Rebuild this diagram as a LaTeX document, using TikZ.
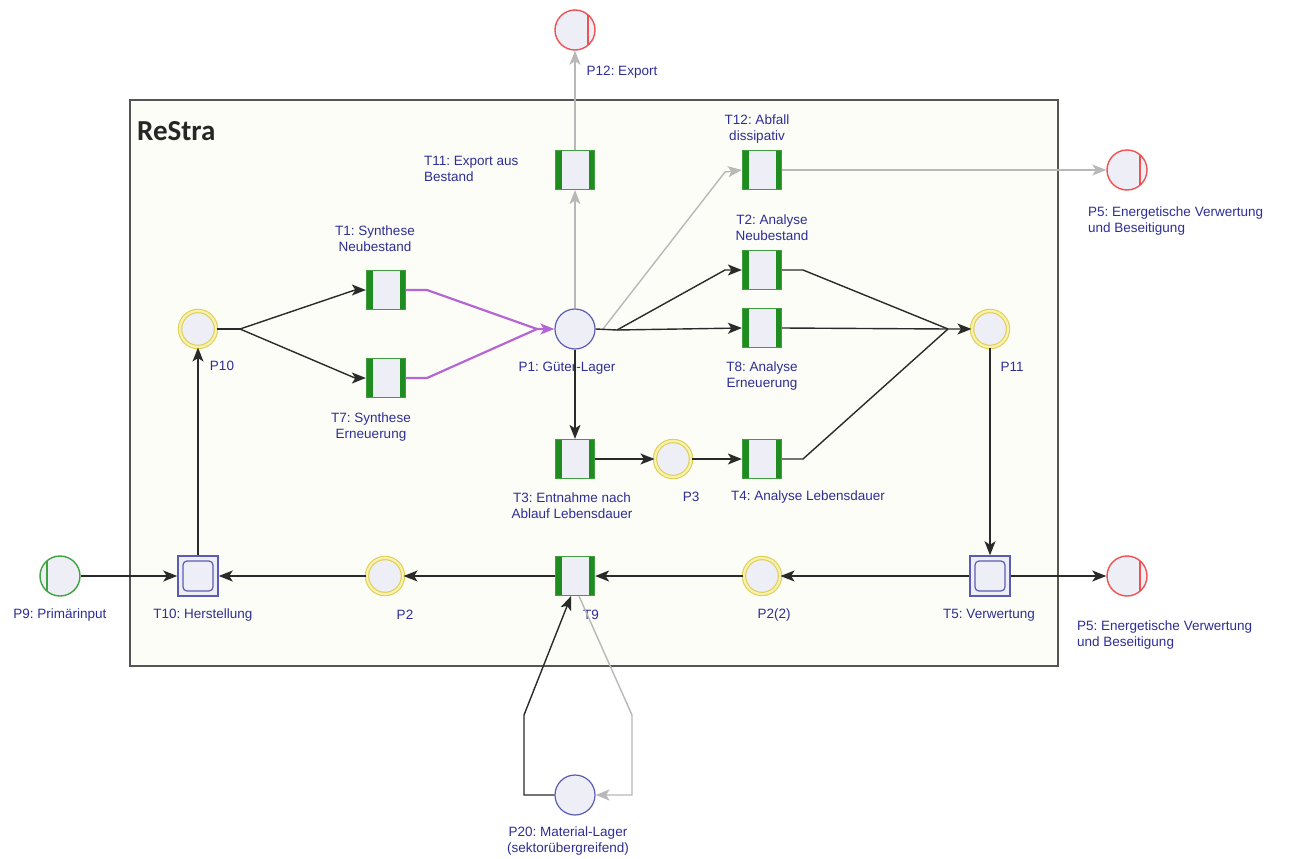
\documentclass[tikz,border=0pt]{standalone}
\usepackage{fontspec}
\setmainfont{Liberation Sans}
\newfontfamily\titlefont{Carlito}
\usetikzlibrary{arrows.meta}
\frenchspacing
\definecolor{pfill}{HTML}{EEEEF6}
\definecolor{pblue}{HTML}{5B5BB5}
\definecolor{pyel}{HTML}{DDD050}
\definecolor{pyelin}{HTML}{F8F0B0}
\definecolor{pred}{HTML}{EE5252}
\definecolor{pgreen}{HTML}{3DA53D}
\definecolor{tgreen}{HTML}{1E8C1E}
\definecolor{lblc}{HTML}{2E2E96}
\definecolor{bgbox}{HTML}{FDFDF7}
\definecolor{boxline}{HTML}{555555}
\definecolor{edgec}{HTML}{2A2A2A}
\definecolor{gedge}{HTML}{B8B8B8}
\definecolor{purp}{HTML}{B565D5}
\tikzset{
  place/.style={circle, minimum size=40pt, inner sep=0pt, fill=pfill, draw=pblue, line width=1.2pt},
  yplace/.style={place, minimum size=36pt, draw=pyel, double=pyelin, double distance=2.2pt, line width=1.1pt},
  rplace/.style={place, draw=pred, line width=1.4pt, path picture={\draw[pred, line width=1.3pt] ([xshift=13pt]path picture bounding box.north) -- ([xshift=13pt]path picture bounding box.south);}},
  gplace/.style={place, draw=pgreen, line width=1.4pt, path picture={\draw[pgreen, line width=1.3pt] ([xshift=-13pt]path picture bounding box.north) -- ([xshift=-13pt]path picture bounding box.south);}},
  trans/.style={rectangle, minimum size=39pt, inner sep=0pt, fill=pfill, draw=tgreen!85, line width=1.2pt,
    path picture={\fill[tgreen] (path picture bounding box.north west) rectangle ([xshift=6pt]path picture bounding box.south west);
                  \fill[tgreen] (path picture bounding box.north east) rectangle ([xshift=-6pt]path picture bounding box.south east);}},
  btrans/.style={rectangle, minimum size=40pt, inner sep=0pt, fill=pfill, draw=pblue, line width=1.5pt,
    path picture={\draw[pblue, line width=1.2pt, rounded corners=4pt] ([shift={(5pt,-5pt)}]path picture bounding box.north west) rectangle ([shift={(-5pt,5pt)}]path picture bounding box.south east);}},
  lbl/.style={text=lblc, font=\fontsize{13.5}{16}\selectfont, align=center, inner sep=0pt},
  tip/.style={-{Stealth[length=14pt, width=11pt, inset=3.5pt]}},
  e/.style={draw=edgec, line width=1.4pt, tip},
  en/.style={draw=edgec, line width=1.4pt},
  ge/.style={draw=gedge, line width=1.4pt, tip},
  pe/.style={draw=purp, line width=2.2pt, tip},
  pen/.style={draw=purp, line width=2.2pt}
}
\begin{document}
\begin{tikzpicture}[x=1pt,y=-1pt]
\path[use as bounding box] (0,0) rectangle (1290,859);
\fill[white] (0,0) rectangle (1290,859);
\draw[draw=boxline, fill=bgbox, line width=1.4pt] (130,100) rectangle (1058,666);
\node[anchor=west, inner sep=0pt, font=\titlefont\bfseries\fontsize{29}{30}\selectfont, text=black!85] (title) at (137,131) {ReStra};

% places
\node[rplace] (P12) at (575,30) {};
\node[rplace] (P5a) at (1127,170) {};
\node[rplace] (P5b) at (1127,576) {};
\node[gplace] (P9) at (60,576) {};
\node[place] (P1) at (575,329) {};
\node[place] (P20) at (575,795) {};
\node[yplace] (P10) at (198,329) {};
\node[yplace] (P11) at (990,329) {};
\node[yplace] (P3) at (673,459) {};
\node[yplace] (P2) at (385,576) {};
\node[yplace] (P22) at (762,576) {};

% transitions
\node[trans] (T11) at (575,170) {};
\node[trans] (T12) at (762,170) {};
\node[trans] (T1) at (386,290) {};
\node[trans] (T7) at (386,378) {};
\node[trans] (T2) at (762,270) {};
\node[trans] (T8) at (762,328) {};
\node[trans] (T3) at (575,459) {};
\node[trans] (T4) at (762,459) {};
\node[trans] (T9) at (575,576) {};
\node[btrans] (T10) at (198,576) {};
\node[btrans] (T5) at (990,576) {};

% labels
\node[lbl] (lP12) at (622,72) {P12: Export};
\node[lbl, anchor=west, align=left] (lT11) at (424,169) {T11: Export aus\\Bestand};
\node[lbl] (lT12) at (757,129) {T12: Abfall\\dissipativ};
\node[lbl, anchor=west, align=left] (lP5a) at (1088,221) {P5: Energetische Verwertung\\und Beseitigung};
\node[lbl] (lT2) at (772,228) {T2: Analyse\\Neubestand};
\node[lbl] (lT1) at (375,239) {T1: Synthese\\Neubestand};
\node[lbl] (lT7) at (371,427) {T7: Synthese\\Erneuerung};
\node[lbl] (lP10) at (222,366) {P10};
\node[lbl] (lP1) at (567,368) {P1: Güter-Lager};
\node[lbl] (lT8) at (762,376) {T8: Analyse\\Erneuerung};
\node[lbl] (lP11) at (1012,367) {P11};
\node[lbl] (lT3) at (572,506) {T3: Entnahme nach\\Ablauf Lebensdauer};
\node[lbl] (lP3) at (691,497) {P3};
\node[lbl] (lT4) at (808,497) {T4: Analyse Lebensdauer};
\node[lbl] (lP9) at (60,615) {P9: Primärinput};
\node[lbl] (lT10) at (203,615) {T10: Herstellung};
\node[lbl] (lP2) at (405,615) {P2};
\node[lbl] (lT9) at (591,615) {T9};
\node[lbl] (lP22) at (774,615) {P2(2)};
\node[lbl] (lT5) at (989,615) {T5: Verwertung};
\node[lbl, anchor=west, align=left] (lP5b) at (1077,635) {P5: Energetische Verwertung\\und Beseitigung};
\node[lbl] (lP20) at (568,841) {P20: Material-Lager\\(sektorübergreifend)};

% bend coordinates
\coordinate (k10) at (240,329);
\coordinate (k1a) at (355,290);
\coordinate (k7a) at (355,378);
\coordinate (q1) at (427,290);
\coordinate (q7) at (427,378);
\coordinate (m1) at (537,329);
\coordinate (b1) at (617,330);
\coordinate (b2) at (725,270);
\coordinate (g0) at (603,329);
\coordinate (g1) at (725,172);
\coordinate (r2) at (803,270);
\coordinate (r4) at (803,459);
\coordinate (m11) at (948,329);
\coordinate (a1) at (524,795);
\coordinate (a2) at (524,715);
\coordinate (c1) at (632,795);
\coordinate (c2) at (632,715);

% gray edges
\draw[ge] (P1) -- (T11);
\draw[ge] (T11) -- (P12);
\draw[ge] (g0) -- (g1) -- (T12.west);
\draw[ge] (T12) -- (P5a);
\draw[ge] ([xshift=4pt]T9.south) -- (c2) -- (c1) -- (P20.east);

% black edges
\draw[en] (P10.east) -- (k10);
\draw[e] (k10) -- (k1a) -- (T1.west);
\draw[e] (k10) -- (k7a) -- (T7.west);
\draw[pen] (T1.east) -- (q1) -- (m1);
\draw[pe] (T7.east) -- (q7) -- (m1) -- (P1.west);
\draw[en] (P1.east) -- (b1);
\draw[e] (b1) -- (b2) -- (T2.west);
\draw[e] (b1) -- (T8.west);
\draw[en] (T2.east) -- (r2) -- (m11);
\draw[en] (T4.east) -- (r4) -- (m11);
\draw[e] (T8.east) -- (m11) -- (P11.west);
\draw[e] (P1) -- (T3);
\draw[e] (T3) -- (P3);
\draw[e] (P3) -- (T4);
\draw[e] (P11) -- (T5);
\draw[e] (T5) -- (P5b);
\draw[e] (T5) -- (P22);
\draw[e] (P22) -- (T9);
\draw[e] (T9) -- (P2);
\draw[e] (P2) -- (T10);
\draw[e] (P9) -- (T10);
\draw[e] (T10) -- (P10);
\draw[e] (P20.west) -- (a1) -- (a2) -- ([xshift=-4pt]T9.south);
\end{tikzpicture}
\end{document}
